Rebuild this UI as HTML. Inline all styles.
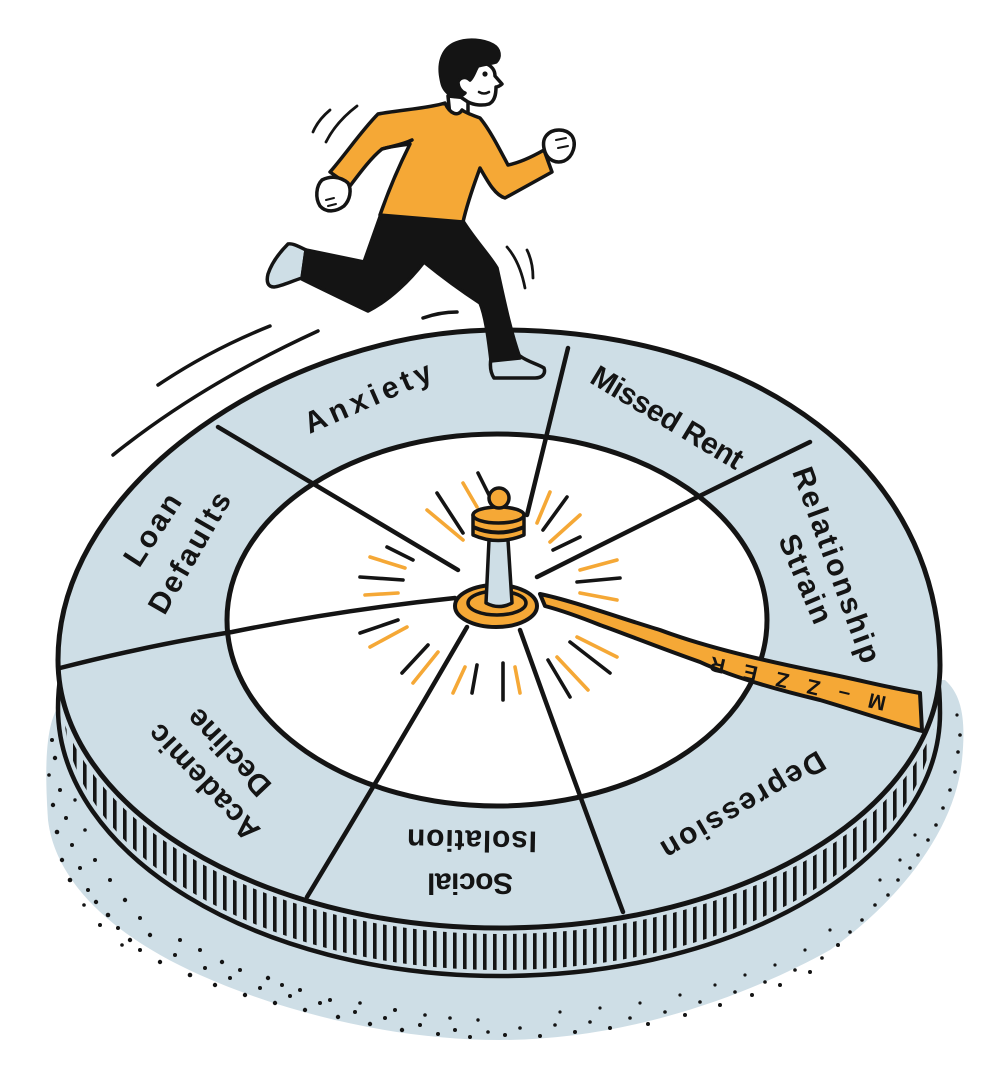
<!DOCTYPE html>
<html><head><meta charset="utf-8"><style>
html,body{margin:0;padding:0;background:#fff;}
svg{display:block;}
.lbl{font-family:"Liberation Sans",sans-serif;font-size:30px;font-weight:bold;fill:#141414;}
</style></head><body>
<svg width="1000" height="1069" viewBox="0 0 1000 1069" xmlns="http://www.w3.org/2000/svg">
<defs>
<pattern id="hatch" width="10" height="40" patternUnits="userSpaceOnUse">
<rect x="3" y="0" width="3.6" height="40" fill="#141414"/>
</pattern>
<clipPath id="bandclip">
<path d="M 58,708 C 58,527 290,378 500,378 C 760,378 940,518 940,713 C 940,857 743,976 500,976 C 256,976 58,854 58,708 Z"/>
</clipPath>
</defs>
<rect width="1000" height="1069" fill="#fff"/>

<!-- shadow -->
<path d="M 64,700 C 46,715 44,760 48,820 C 55,880 110,935 200,975 C 290,1015 400,1040 500,1040 C 620,1040 740,1000 830,950 C 900,900 955,830 962,760 C 966,720 962,695 945,680 Z" fill="#cedee6"/>
<g fill="#141414">
<circle cx="52" cy="740" r="2"/><circle cx="55" cy="758" r="2.2"/><circle cx="49" cy="775" r="1.8"/><circle cx="60" cy="790" r="2"/><circle cx="53" cy="805" r="2.2"/><circle cx="66" cy="818" r="2"/><circle cx="57" cy="832" r="2.3"/><circle cx="72" cy="845" r="2"/><circle cx="62" cy="860" r="2.2"/><circle cx="80" cy="868" r="2"/><circle cx="70" cy="880" r="2.3"/><circle cx="88" cy="890" r="2"/><circle cx="96" cy="902" r="2.2"/><circle cx="84" cy="905" r="1.8"/><circle cx="108" cy="915" r="2.3"/><circle cx="118" cy="928" r="2"/><circle cx="100" cy="925" r="2"/><circle cx="130" cy="940" r="2.2"/><circle cx="140" cy="950" r="2"/><circle cx="122" cy="945" r="1.8"/>
<circle cx="75" cy="800" r="1.7"/><circle cx="85" cy="830" r="1.8"/><circle cx="95" cy="860" r="2"/><circle cx="110" cy="880" r="2"/><circle cx="125" cy="900" r="2.2"/><circle cx="140" cy="918" r="2"/><circle cx="150" cy="935" r="2.2"/>
<circle cx="160" cy="962" r="2.2"/><circle cx="175" cy="955" r="2"/><circle cx="190" cy="975" r="2.3"/><circle cx="205" cy="968" r="2"/><circle cx="215" cy="985" r="2.2"/><circle cx="230" cy="978" r="2"/><circle cx="245" cy="995" r="2.2"/><circle cx="260" cy="988" r="2"/><circle cx="275" cy="1003" r="2.2"/><circle cx="290" cy="996" r="2"/><circle cx="305" cy="1010" r="2.2"/><circle cx="320" cy="1003" r="2"/><circle cx="338" cy="1017" r="2.2"/><circle cx="355" cy="1012" r="2"/><circle cx="370" cy="1024" r="2.2"/><circle cx="385" cy="1018" r="2"/><circle cx="402" cy="1030" r="2.2"/><circle cx="420" cy="1025" r="2"/><circle cx="438" cy="1034" r="2"/><circle cx="455" cy="1030" r="2"/><circle cx="470" cy="1037" r="2"/><circle cx="488" cy="1032" r="1.8"/>
<circle cx="180" cy="940" r="2"/><circle cx="200" cy="950" r="2"/><circle cx="222" cy="962" r="2.2"/><circle cx="240" cy="970" r="2"/><circle cx="268" cy="978" r="2.2"/><circle cx="282" cy="985" r="2"/><circle cx="300" cy="990" r="2"/><circle cx="330" cy="1000" r="2"/><circle cx="360" cy="1003" r="1.8"/><circle cx="395" cy="1010" r="2"/><circle cx="425" cy="1015" r="1.8"/><circle cx="450" cy="1018" r="1.8"/><circle cx="478" cy="1020" r="1.7"/>
<circle cx="505" cy="1035" r="2"/><circle cx="520" cy="1028" r="1.8"/><circle cx="540" cy="1036" r="2"/><circle cx="555" cy="1025" r="1.8"/><circle cx="575" cy="1032" r="2"/><circle cx="590" cy="1022" r="1.8"/><circle cx="610" cy="1028" r="2"/><circle cx="630" cy="1018" r="1.8"/><circle cx="648" cy="1024" r="2"/><circle cx="665" cy="1012" r="1.8"/><circle cx="685" cy="1015" r="2"/><circle cx="700" cy="1002" r="1.8"/><circle cx="720" cy="1005" r="2"/><circle cx="735" cy="992" r="1.8"/><circle cx="752" cy="995" r="2"/><circle cx="765" cy="982" r="1.8"/><circle cx="780" cy="985" r="2"/><circle cx="795" cy="970" r="1.8"/><circle cx="810" cy="972" r="2"/><circle cx="822" cy="958" r="1.8"/><circle cx="838" cy="945" r="2"/><circle cx="850" cy="932" r="1.8"/>
<circle cx="560" cy="1012" r="1.6"/><circle cx="600" cy="1008" r="1.6"/><circle cx="640" cy="1003" r="1.6"/><circle cx="680" cy="995" r="1.6"/><circle cx="715" cy="985" r="1.6"/><circle cx="745" cy="975" r="1.6"/><circle cx="775" cy="965" r="1.6"/><circle cx="805" cy="950" r="1.6"/><circle cx="830" cy="930" r="1.6"/>
<circle cx="862" cy="920" r="1.8"/><circle cx="875" cy="905" r="1.8"/><circle cx="888" cy="895" r="1.8"/><circle cx="898" cy="880" r="1.8"/><circle cx="910" cy="868" r="1.8"/><circle cx="918" cy="855" r="1.8"/><circle cx="928" cy="840" r="1.8"/><circle cx="936" cy="825" r="1.8"/><circle cx="943" cy="808" r="1.8"/><circle cx="950" cy="790" r="1.8"/><circle cx="955" cy="772" r="1.8"/><circle cx="958" cy="752" r="1.8"/><circle cx="960" cy="735" r="1.8"/><circle cx="957" cy="715" r="1.6"/><circle cx="880" cy="880" r="1.6"/><circle cx="900" cy="860" r="1.6"/><circle cx="915" cy="835" r="1.6"/>
</g>

<!-- cylinder side band -->
<path d="M 58,708 C 58,527 290,378 500,378 C 760,378 940,518 940,713 C 940,857 743,976 500,976 C 256,976 58,854 58,708 Z" fill="#cedee6"/>
<path d="M 58,708 C 58,527 290,378 500,378 C 760,378 940,518 940,713 C 940,857 743,976 500,976 C 256,976 58,854 58,708 Z" fill="url(#hatch)"/>
<g clip-path="url(#bandclip)">
<path d="M 940,713 C 940,857 743,976 500,976 C 256,976 58,854 58,708" fill="none" stroke="#cedee6" stroke-width="12"/>
<path d="M 940,665 C 940,809 743,928 500,928 C 256,928 58,806 58,660" fill="none" stroke="#cedee6" stroke-width="12"/>
</g>
<path d="M 58,708 C 58,527 290,378 500,378 C 760,378 940,518 940,713 C 940,857 743,976 500,976 C 256,976 58,854 58,708 Z" fill="none" stroke="#141414" stroke-width="4.5"/>

<!-- top surface -->
<path d="M 58,660 C 58,480 290,330 500,330 C 760,330 940,470 940,665 C 940,809 743,928 500,928 C 256,928 58,806 58,660 Z" fill="#cedee6" stroke="#141414" stroke-width="5"/>
<ellipse cx="497" cy="620" rx="270" ry="186" fill="#fff" stroke="#141414" stroke-width="5"/>

<!-- rays -->
<g stroke-linecap="round" stroke-width="3.6" fill="none">
<g stroke="#141414">
<line x1="478" y1="473" x2="490" y2="497"/>
<line x1="437" y1="493" x2="463" y2="533"/>
<line x1="387" y1="547" x2="413" y2="560"/>
<line x1="360" y1="577" x2="403" y2="580"/>
<line x1="360" y1="633" x2="398" y2="620"/>
<line x1="402" y1="673" x2="428" y2="645"/>
<line x1="472" y1="693" x2="477" y2="665"/>
<line x1="503" y1="700" x2="503" y2="663"/>
<line x1="570" y1="642" x2="610" y2="673"/>
<line x1="577" y1="582" x2="620" y2="578"/>
<line x1="553" y1="550" x2="580" y2="537"/>
<line x1="543" y1="530" x2="567" y2="497"/>
<line x1="548" y1="660" x2="570" y2="697"/>
</g>
<g stroke="#f5a836">
<line x1="463" y1="483" x2="477" y2="507"/>
<line x1="427" y1="510" x2="463" y2="540"/>
<line x1="370" y1="557" x2="405" y2="568"/>
<line x1="365" y1="595" x2="398" y2="593"/>
<line x1="370" y1="647" x2="407" y2="627"/>
<line x1="413" y1="683" x2="438" y2="652"/>
<line x1="453" y1="693" x2="465" y2="667"/>
<line x1="520" y1="693" x2="515" y2="667"/>
<line x1="557" y1="657" x2="588" y2="690"/>
<line x1="577" y1="637" x2="617" y2="657"/>
<line x1="580" y1="593" x2="617" y2="600"/>
<line x1="580" y1="570" x2="617" y2="560"/>
<line x1="550" y1="542" x2="580" y2="515"/>
<line x1="537" y1="523" x2="550" y2="492"/>
</g>
</g>

<!-- spokes -->
<g stroke="#141414" stroke-width="4.5" fill="none" stroke-linecap="round">
<path d="M 568,348 Q 548,430 527,515"/>
<path d="M 218,427 Q 340,500 458,570"/>
<path d="M 60,668 Q 150,645 232,632 Q 340,610 455,598"/>
<path d="M 307,897 Q 390,760 467,627"/>
<path d="M 623,912 Q 570,770 520,630"/>
<path d="M 810,442 Q 670,510 537,577"/>
</g>

<!-- orange strip -->
<path d="M 540,594 C 570,600 620,618 660,630 C 700,645 760,660 820,672 C 860,680 890,688 920,693 L 922,731 C 890,722 860,712 820,700 C 770,688 730,676 700,662 C 660,648 620,632 600,625 C 580,617 560,610 545,606 Z" fill="#f5a836" stroke="#141414" stroke-width="4" stroke-linejoin="round"/>
<text transform="translate(798,683) rotate(193)" text-anchor="middle" dominant-baseline="central" font-family="Liberation Sans, sans-serif" font-weight="bold" font-size="21" fill="#141414" textLength="180" lengthAdjust="spacing">M–ZZER</text>

<!-- hub -->
<ellipse cx="496" cy="606" rx="41" ry="21" fill="#f5a836" stroke="#141414" stroke-width="4"/>
<ellipse cx="497" cy="603" rx="29" ry="12" fill="#f5a836" stroke="#141414" stroke-width="3.5"/>
<path d="M 486,603 L 489,540 L 508,540 L 512,603 Q 499,610 486,603 Z" fill="#cedee6" stroke="#141414" stroke-width="3.5" stroke-linejoin="round"/>
<path d="M 473,515 L 473,535 Q 498,546 524,535 L 524,515 Z" fill="#f5a836" stroke="#141414" stroke-width="3.5" stroke-linejoin="round"/>
<path d="M 473,527 Q 498,538 524,527" fill="none" stroke="#141414" stroke-width="4"/>
<ellipse cx="498.5" cy="515" rx="25.5" ry="8" fill="#f5a836" stroke="#141414" stroke-width="3.5"/>
<circle cx="499" cy="498" r="10" fill="#f5a836" stroke="#141414" stroke-width="3.5"/>

<!-- labels -->
<text class="lbl" transform="translate(368,398) rotate(-23.7)" text-anchor="middle" dominant-baseline="central" textLength="136" lengthAdjust="spacing">Anxiety</text>
<text class="lbl" transform="translate(667,418) rotate(31)" text-anchor="middle" dominant-baseline="central" textLength="172" lengthAdjust="spacing">Missed Rent</text>
<text class="lbl" transform="translate(836,565) rotate(70)" text-anchor="middle" dominant-baseline="central" textLength="206" lengthAdjust="spacing">Relationship</text>
<text class="lbl" transform="translate(805,579) rotate(67)" text-anchor="middle" dominant-baseline="central" textLength="94" lengthAdjust="spacing">Strain</text>
<text class="lbl" transform="translate(153,530) rotate(-57)" text-anchor="middle" dominant-baseline="central" textLength="80" lengthAdjust="spacing">Loan</text>
<text class="lbl" transform="translate(190,553) rotate(-60)" text-anchor="middle" dominant-baseline="central" textLength="135" lengthAdjust="spacing">Defaults</text>
<text class="lbl" transform="translate(204,782) rotate(226.7)" text-anchor="middle" dominant-baseline="central" textLength="148" lengthAdjust="spacing">Academic</text>
<text class="lbl" transform="translate(229,752) rotate(226.7)" text-anchor="middle" dominant-baseline="central" textLength="108" lengthAdjust="spacing">Decline</text>
<text class="lbl" transform="translate(470,883) rotate(180)" text-anchor="middle" dominant-baseline="central" textLength="86" lengthAdjust="spacing">Social</text>
<text class="lbl" transform="translate(472,840) rotate(181)" text-anchor="middle" dominant-baseline="central" textLength="130" lengthAdjust="spacing">Isolation</text>
<text class="lbl" transform="translate(743,805) rotate(149.5)" text-anchor="middle" dominant-baseline="central" textLength="185" lengthAdjust="spacing">Depression</text>

<!-- speed lines -->
<g stroke="#141414" stroke-width="3.5" fill="none" stroke-linecap="round">
<path d="M 158,385 Q 210,350 270,326"/>
<path d="M 113,455 Q 200,385 318,331"/>
<path d="M 423,318 Q 440,312 457,312"/>
<path d="M 313,132 Q 318,120 330,110" stroke-width="2.8"/>
<path d="M 326,142 Q 336,122 357,106" stroke-width="2.8"/>
<path d="M 507,247 Q 520,262 525,288" stroke-width="2.8"/>
<path d="M 527,250 Q 533,262 533,278" stroke-width="2.8"/>
</g>

<!-- runner -->
<g stroke="#141414" stroke-width="3.5" stroke-linejoin="round" stroke-linecap="round">
<path d="M 306,250 C 298,246 292,243 288,244 C 280,252 272,262 268,274 C 266,282 268,287 274,287 C 282,286 292,281 302,278 Z" fill="#cedee6"/>
<path d="M 491,358 L 520,356 C 528,362 538,364 544,368 C 546,374 542,378 535,378 L 494,378 C 490,372 490,364 491,358 Z" fill="#cedee6"/>
<path d="M 381,214 L 463,221 C 475,240 490,256 497,268 C 503,295 510,330 520,358 L 491,361 C 488,335 485,315 480,303 C 460,290 440,275 424,262 C 410,280 390,300 368,311 C 345,300 320,288 302,279 L 306,250 C 325,254 345,258 364,262 C 370,245 376,228 381,214 Z" fill="#141414"/>
<path d="M 448,96 L 468,98 L 468,118 L 450,116 Z" fill="#fff"/>
<path d="M 445,103 C 430,108 400,110 378,114 C 362,130 345,155 330,172 L 350,186 C 362,170 372,157 382,149 C 392,146 402,145 410,144 C 398,168 388,192 380,215 L 463,222 C 468,200 475,182 480,168 C 488,182 495,195 505,198 L 552,172 L 544,150 C 530,158 518,163 508,165 C 500,150 490,130 480,118 C 472,115 466,113 462,110 C 458,117 450,114 445,103 Z" fill="#f5a836"/>
<path d="M 382,149 C 392,146 402,145 412,140" fill="none"/>
<path d="M 322,180 C 316,186 315,198 320,206 C 326,213 336,212 344,206 C 350,200 352,190 348,183 C 340,176 330,176 322,180 Z" fill="#fff"/>
<path d="M 326,200 L 334,198 M 328,206 L 336,204" fill="none" stroke-width="2"/>
<path d="M 546,136 C 552,128 566,128 572,136 C 577,144 573,157 564,161 C 556,164 548,160 545,152 C 543,146 543,140 546,136 Z" fill="#fff"/>
<path d="M 556,140 L 566,138 M 558,148 L 568,146" fill="none" stroke-width="2"/>
<path d="M 462,98 C 452,92 447,82 452,72 L 485,63 C 492,66 495,70 495,76 L 502,84 C 500,86 497,87 496,87 C 496,94 495,101 489,104 C 482,106 474,105 468,102 Z" fill="#fff"/>
<path d="M 441,78 C 438,62 443,48 456,43 C 468,38 484,40 493,45 C 500,49 501,57 496,62 C 490,64 484,64 478,66 C 475,70 474,76 470,80 C 466,76 460,77 458,82 C 458,88 462,92 465,93 C 460,98 452,98 447,92 C 443,88 442,84 441,78 Z" fill="#141414"/>
<path d="M 479,92 Q 484,95 489,92" fill="none" stroke-width="2.5"/>
</g>
<circle cx="485" cy="74" r="2.6" fill="#141414"/>
</svg>
</body></html>
